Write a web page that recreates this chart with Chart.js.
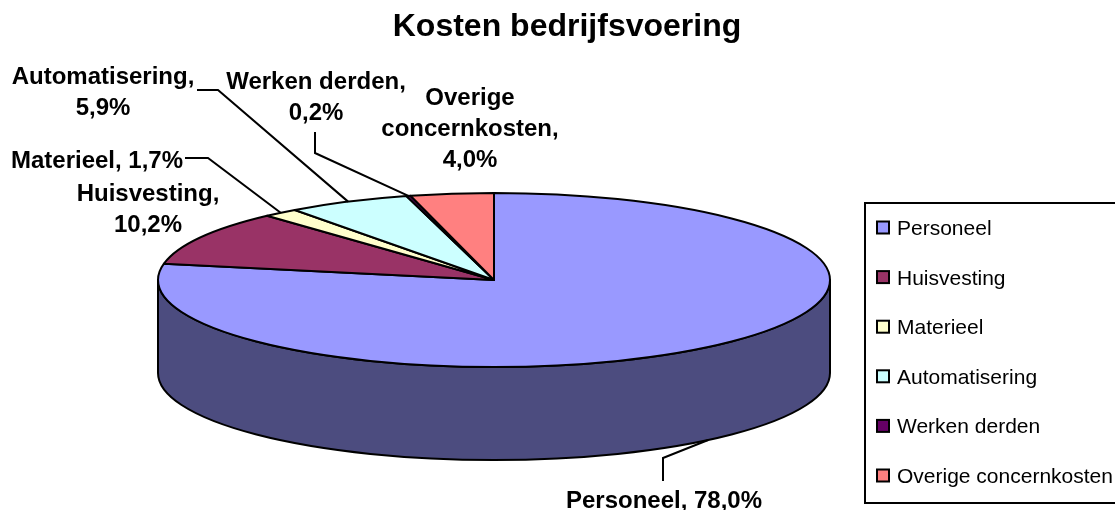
<!DOCTYPE html>
<html><head><meta charset="utf-8">
<script src="https://cdn.jsdelivr.net/npm/chart.js@4.4.0/dist/chart.umd.min.js"></script>
<style>html,body{margin:0;padding:0;background:#fff}canvas{display:block}</style>
</head><body>
<canvas id="c" width="1115" height="510"></canvas>
<script>
// ---- data ----
const chartTitle = 'Kosten bedrijfsvoering';
const categories = ['Personeel','Huisvesting','Materieel','Automatisering','Werken derden','Overige concernkosten'];
const values = [78.0, 10.2, 1.7, 5.9, 0.2, 4.0];
const topColors = ['#9999FF','#993366','#FFFFCC','#CCFFFF','#660066','#FF8080'];
const sideColors = ['#4C4C7F','#4C1933','#7F7F66','#667F7F','#330033','#7F4040'];

// ---- layout ----
const EX = 494, EY = 280, RX = 336, RY = 87, DEPTH = 93;
const FONT = '"Liberation Sans", Arial, sans-serif';
// label layout: wrap mode, centre x, baselines, leader elbow points
const labelLayout = [
  {wrap:1, cx:664, base:[508], leader:[[663,481],[663,458]]},
  {wrap:2, cx:148, base:[201,232], leader:null},
  {wrap:1, cx:97,  base:[168], leader:[[185,158],[208,158]]},
  {wrap:2, cx:103, base:[84,115], leader:[[197,90],[218,90]]},
  {wrap:2, cx:316, base:[89,120], leader:[[315,132],[315,153]]},
  {wrap:3, cx:470, base:[105,136,167], leader:null}
];
function pct(v){ return v.toFixed(1).replace('.', ',') + '%'; }
function labelLines(i){
  const cat = categories[i], p = pct(values[i]), w = labelLayout[i].wrap;
  if (w === 1) return [cat + ', ' + p];
  if (w === 2) return [cat + ',', p];
  const words = cat.split(' ');
  words[words.length-1] += ',';
  return words.concat([p]);
}

const pie3d = {
  id: 'pie3d',
  beforeDatasetsDraw(chart){
    const c = chart.ctx;
    const arcs = chart.getDatasetMeta(0).data;
    if (!arcs.length) return false;
    const R = arcs[0].outerRadius, ox = arcs[0].x, oy = arcs[0].y;
    const sx = RX / R, sy = RY / R;
    const T = (fn) => { c.save(); c.translate(EX, EY); c.scale(sx, sy); c.translate(-ox, -oy); fn(); c.restore(); };
    c.save();
    c.lineWidth = 2; c.lineJoin = 'round'; c.strokeStyle = '#000';
    // side walls (front half only)
    arcs.forEach((arc, i) => {
      const s = arc.startAngle, e = arc.endAngle;
      for (let k = -1; k <= 1; k++) {
        const off = k * 2 * Math.PI;
        const a = Math.max(s, off), b = Math.min(e, off + Math.PI);
        if (b > a) {
          T(() => {
            c.beginPath();
            c.arc(ox, oy, R, a, b, false);
            c.lineTo(ox + R * Math.cos(b), oy + R * Math.sin(b) + DEPTH / sy);
            c.arc(ox, oy + DEPTH / sy, R, b, a, true);
            c.closePath();
          });
          c.fillStyle = sideColors[i]; c.fill(); c.stroke();
        }
      }
    });
    // top faces
    arcs.forEach((arc, i) => {
      T(() => {
        c.beginPath();
        c.moveTo(ox, oy);
        c.arc(ox, oy, R, arc.startAngle, arc.endAngle, false);
        c.closePath();
      });
      c.fillStyle = topColors[i]; c.fill(); c.stroke();
    });
    c.restore();
    // store leader anchor points
    chart.$anchors = arcs.map(arc => {
      const m = (arc.startAngle + arc.endAngle) / 2;
      const x = EX + R * Math.cos(m) * sx;
      let y = EY + R * Math.sin(m) * sy;
      if (Math.sin(m) > 0) y += DEPTH;
      return [x, y];
    });
    return false;
  },
  afterDraw(chart){
    const c = chart.ctx;
    c.save();
    // title
    c.fillStyle = '#000';
    c.font = 'bold 32px ' + FONT;
    c.textAlign = 'center'; c.textBaseline = 'alphabetic';
    c.fillText(chartTitle, 567, 36);
    // leaders
    c.strokeStyle = '#000'; c.lineWidth = 2; c.lineJoin = 'miter';
    labelLayout.forEach((L, i) => {
      if (!L.leader || !chart.$anchors) return;
      c.beginPath();
      c.moveTo(L.leader[0][0], L.leader[0][1]);
      for (let j = 1; j < L.leader.length; j++) c.lineTo(L.leader[j][0], L.leader[j][1]);
      c.lineTo(chart.$anchors[i][0], chart.$anchors[i][1]);
      c.stroke();
    });
    // labels
    c.font = 'bold 24px ' + FONT;
    c.textAlign = 'center';
    labelLayout.forEach((L, i) => {
      labelLines(i).forEach((t, j) => c.fillText(t, L.cx, L.base[j]));
    });
    // legend
    c.lineWidth = 2;
    c.strokeRect(865, 203, 270, 300);
    c.font = '21px ' + FONT;
    c.textAlign = 'left';
    categories.forEach((cat, i) => {
      const yc = 227.5 + i * 49.6;
      c.fillStyle = topColors[i];
      c.fillRect(877, yc - 6, 12, 12);
      c.strokeRect(877, yc - 6, 12, 12);
      c.fillStyle = '#000';
      c.fillText(cat, 897, yc + 7.5);
    });
    c.restore();
  }
};

new Chart(document.getElementById('c').getContext('2d'), {
  type: 'pie',
  data: { labels: categories, datasets: [{ data: values, backgroundColor: topColors, borderColor: '#000', borderWidth: 2 }] },
  options: {
    responsive: false, animation: false, events: [],
    plugins: { legend: { display: false }, title: { display: false }, tooltip: { enabled: false } }
  },
  plugins: [pie3d]
});
</script>
</body></html>
